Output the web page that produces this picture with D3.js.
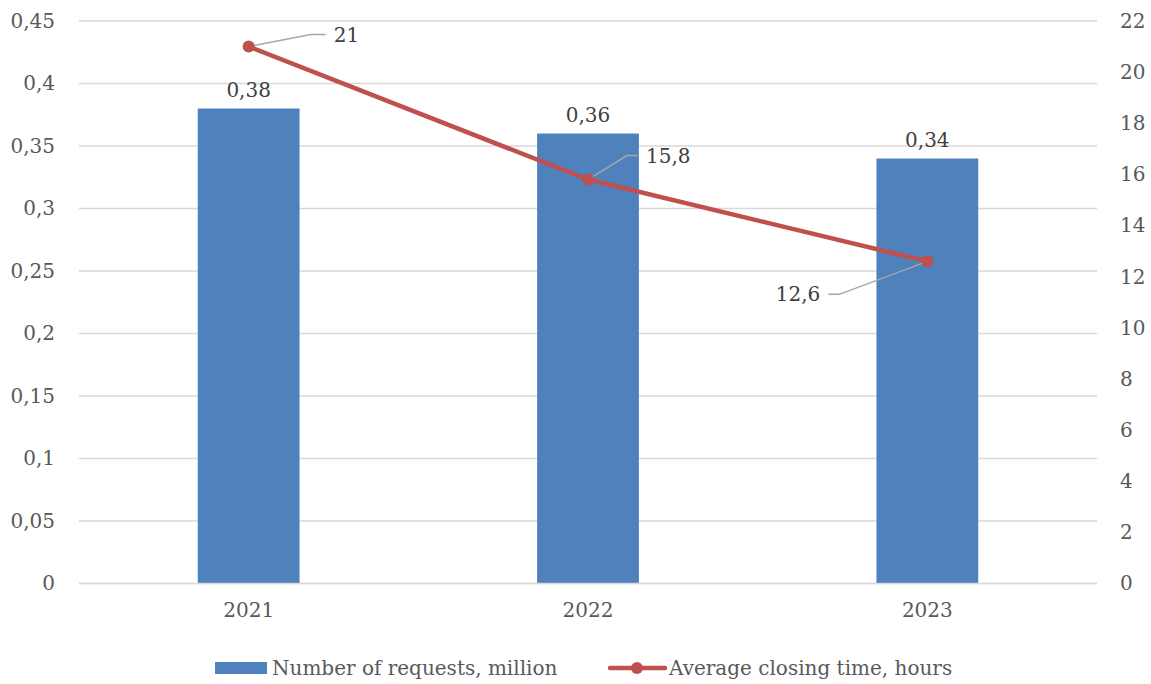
<!DOCTYPE html>
<html>
<head>
<meta charset="utf-8">
<script src="https://cdn.jsdelivr.net/npm/d3@7"></script>
<style>
  body { margin: 0; background: #fff; }
  svg { font-family: "DejaVu Serif", serif; }
  .grid line { stroke: #d9d9d9; stroke-width: 1.5; }
  .tick-label { fill: #595959; font-size: 20px; }
  .data-label { fill: #404040; font-size: 20px; }
  .legend-label { fill: #595959; font-size: 20px; }
</style>
</head>
<body>
<svg id="chart"></svg>
<script>
const years = ['2021', '2022', '2023'];
const requests = [0.38, 0.36, 0.34];
const closingHours = [21, 15.8, 12.6];
const leftTicks = [0, 0.05, 0.1, 0.15, 0.2, 0.25, 0.3, 0.35, 0.4, 0.45];
const rightTicks = [0, 2, 4, 6, 8, 10, 12, 14, 16, 18, 20, 22];
const seriesNames = ['Number of requests, million', 'Average closing time, hours'];

const width = 1151, height = 684;
const margin = {top: 21, right: 54, bottom: 100.5, left: 79};
const innerW = width - margin.left - margin.right;
const innerH = height - margin.top - margin.bottom;

const blue = '#4f81bd', red = '#c0504d';
const fmt = v => String(v).replace('.', ',');

const svg = d3.select('#chart').attr('width', width).attr('height', height);
const chart = svg.append('g').attr('transform', `translate(${margin.left},${margin.top})`);

const x = d3.scaleBand().domain(years).range([0, innerW]).paddingInner(0).paddingOuter(0);
const yL = d3.scaleLinear().domain([0, 0.45]).range([innerH, 0]);
const yR = d3.scaleLinear().domain([0, 22]).range([innerH, 0]);
const barW = x.bandwidth() * 0.3;

// strip d3's default axis styling so the serif labels take over
function cleanAxis(g) {
  g.attr('font-family', null).attr('font-size', null);
  g.select('.domain').remove();
  g.selectAll('text').attr('class', 'tick-label').attr('fill', null);
}

// horizontal gridlines
chart.append('g').attr('class', 'grid')
  .selectAll('line').data(leftTicks).join('line')
  .attr('x1', 0).attr('x2', innerW)
  .attr('y1', d => yL(d)).attr('y2', d => yL(d));

// left axis labels
const leftAxis = d3.axisLeft(yL).tickValues(leftTicks).tickFormat(fmt).tickSize(0).tickPadding(24);
chart.append('g').call(leftAxis).call(cleanAxis);

// right axis labels
const rightAxis = d3.axisRight(yR).tickValues(rightTicks).tickFormat(fmt).tickSize(0).tickPadding(23);
chart.append('g').attr('transform', `translate(${innerW},0)`).call(rightAxis).call(cleanAxis);

// bottom axis labels
const bottomAxis = d3.axisBottom(x).tickSize(0).tickPadding(19);
chart.append('g').attr('transform', `translate(0,${innerH})`).call(bottomAxis).call(cleanAxis);

// bars
chart.selectAll('.bar').data(requests).join('rect')
  .attr('class', 'bar')
  .attr('x', (d, i) => x(years[i]) + (x.bandwidth() - barW) / 2)
  .attr('width', barW)
  .attr('y', d => yL(d))
  .attr('height', d => innerH - yL(d))
  .attr('fill', blue);

chart.selectAll('.bar-label').data(requests).join('text')
  .attr('class', 'data-label')
  .attr('x', (d, i) => x(years[i]) + x.bandwidth() / 2)
  .attr('y', d => yL(d) - 12)
  .attr('text-anchor', 'middle')
  .text(fmt);

// bottom baseline
chart.append('line')
  .attr('x1', 0).attr('x2', innerW).attr('y1', innerH).attr('y2', innerH)
  .attr('stroke', '#d9d9d9').attr('stroke-width', 1.5);

// closing time line
const cx = i => x(years[i]) + x.bandwidth() / 2;
const line = d3.line().x((d, i) => cx(i)).y(d => yR(d));

// leader lines for line labels: [dx to elbow, dy to elbow, horizontal run]
const leaders = [[62, -12, 15], [39, -24, 11], [-88, 33, -11]];
chart.selectAll('.leader').data(closingHours).join('polyline')
  .attr('class', 'leader')
  .attr('fill', 'none').attr('stroke', '#a6a6a6').attr('stroke-width', 1.5)
  .attr('points', (d, i) => {
    const px = cx(i), py = yR(d), [dx, dy, h] = leaders[i];
    return `${px},${py} ${px + dx},${py + dy} ${px + dx + h},${py + dy}`;
  });

chart.append('path').datum(closingHours)
  .attr('d', line)
  .attr('fill', 'none').attr('stroke', red).attr('stroke-width', 4.5)
  .attr('stroke-linejoin', 'round');

chart.selectAll('.dot').data(closingHours).join('circle')
  .attr('cx', (d, i) => cx(i)).attr('cy', d => yR(d)).attr('r', 6)
  .attr('fill', red);

chart.selectAll('.line-label').data(closingHours).join('text')
  .attr('class', 'data-label')
  .attr('x', (d, i) => {
    const [dx, , h] = leaders[i];
    return cx(i) + dx + h + (h > 0 ? 8 : -8);
  })
  .attr('y', (d, i) => yR(d) + leaders[i][1])
  .attr('dy', '0.35em')
  .attr('text-anchor', (d, i) => leaders[i][2] > 0 ? 'start' : 'end')
  .text(fmt);

// legend
const legend = svg.append('g').attr('transform', 'translate(0,668)');
legend.append('rect').attr('x', 215).attr('y', -6).attr('width', 52).attr('height', 12).attr('fill', blue);
legend.append('text').attr('class', 'legend-label').attr('x', 272).attr('dy', '0.35em').text(seriesNames[0]);
legend.append('line').attr('x1', 610).attr('x2', 665).attr('stroke', red).attr('stroke-width', 4.5).attr('stroke-linecap', 'round');
legend.append('circle').attr('cx', 637).attr('r', 6).attr('fill', red);
legend.append('text').attr('class', 'legend-label').attr('x', 669).attr('dy', '0.35em').text(seriesNames[1]);
</script>
</body>
</html>
